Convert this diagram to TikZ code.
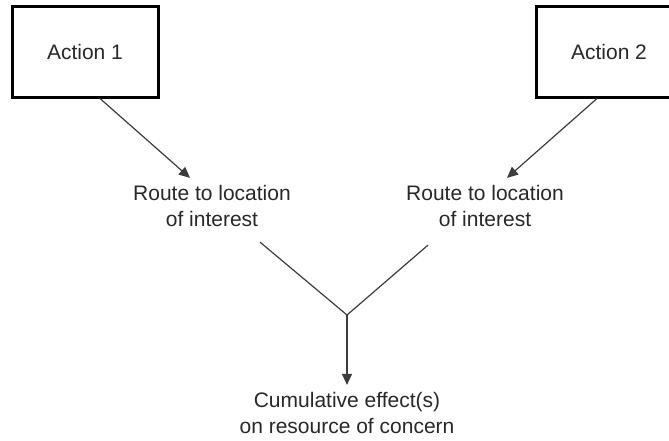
\documentclass[tikz,border=0pt]{standalone}
\usepackage{fontspec}
\setmainfont{Liberation Sans}
\usepackage{tikz}
\usetikzlibrary{arrows.meta, positioning, calc}
\definecolor{inkgray}{RGB}{40, 40, 40}
\definecolor{linegray}{RGB}{60, 60, 60}

\begin{document}
\begin{tikzpicture}[
  x=0.5pt, y=-0.5pt,
  every node/.style={font=\fontsize{10.5}{13}\selectfont, text=inkgray},
  actbox/.style={draw=black, line width=1.5pt, minimum width=73pt,
                 minimum height=45.5pt, align=center},
  route/.style={align=center, inner sep=3.5pt},
  arrow/.style={-{Triangle[length=5.5pt, width=5pt]}, line width=0.6pt,
                draw=linegray},
  branch/.style={line width=0.6pt, draw=linegray}
]
\useasboundingbox (0,0) rectangle (669,440);
\clip (0,0) rectangle (669,440);

% ── Nodes ────────────────────────────────────────────────────────────────────
\node[actbox] (act1) at (85,51.5) {Action 1};
\node[actbox] (act2) at (609,51.5) {Action 2};

\node[route] (route1) at (212,206) {Route to location\\of interest};
\node[route] (route2) at (485,206) {Route to location\\of interest};

\coordinate (meet) at (347,315);

\node[route] (effect) at (347,413)
  {Cumulative effect(s)\\on resource of concern};

% ── Arrows ───────────────────────────────────────────────────────────────────
% Actions → routes
\draw[arrow] ($(act1.south)+(15,0)$) -- ($(route1.north)+(-22,0)$);
\draw[arrow] ($(act2.south)+(-12,0)$) -- ($(route2.north)+(22,0)$);

% Routes meet, then → cumulative effect
\draw[branch] ($(route1.south)+(48,8)$) -- (meet);
\draw[branch] ($(route2.south)+(-57,11)$) -- (meet);
\draw[arrow] (meet) -- (effect.north);

\end{tikzpicture}
\end{document}
